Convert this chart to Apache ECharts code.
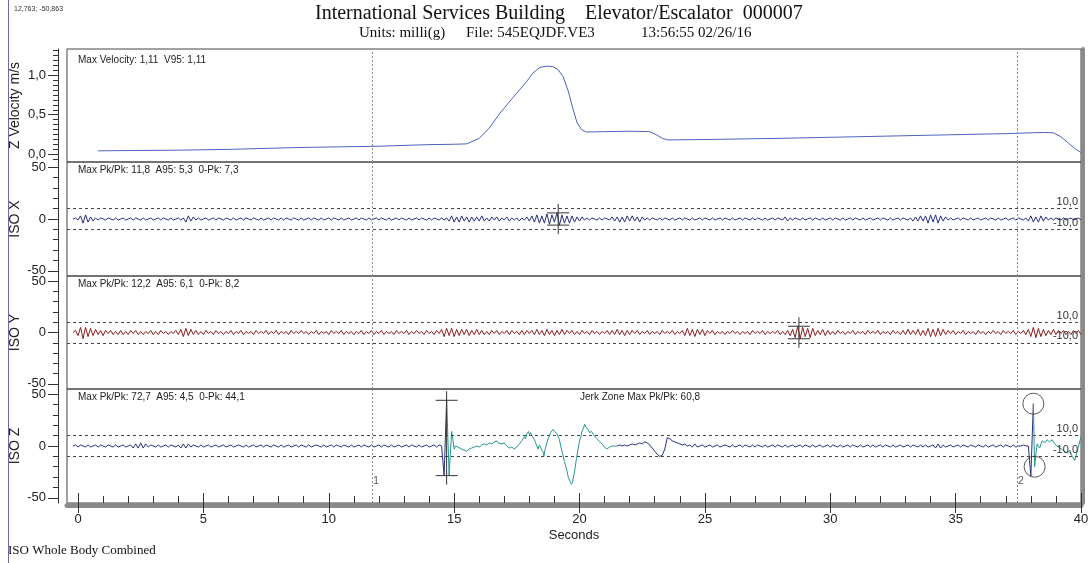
<!DOCTYPE html>
<html>
<head>
<meta charset="utf-8">
<script src="https://cdn.jsdelivr.net/npm/echarts@6/dist/echarts.min.js"></script>
<style>
  html, body { margin: 0; padding: 0; background: #fff; }
  #chart { position: absolute; left: 0; top: 0; width: 1089px; height: 563px; }
  #edge { position: absolute; left: 8px; top: 0; width: 1px; height: 563px; background: #6b6ba8; }
</style>
</head>
<body>
<div id="chart"></div>
<div id="edge"></div>
<script>
// ---- recorded data -------------------------------------------------------
// Z velocity (m/s) against time (s)
const velTime  = [0.8, 2, 4, 6, 8.85, 10, 12, 12.84, 14, 15, 15.5, 16.0, 16.4, 16.83, 17.3, 17.89, 18.15, 18.42, 18.7, 18.94, 19.15, 19.35, 19.55, 19.75, 19.9, 20.08, 20.28, 21, 22, 22.8, 23.1, 23.3, 23.5, 25, 28, 31, 34, 37, 38.5, 38.9, 39.2, 39.5, 39.8, 40];
const velValue = [0.042, 0.045, 0.05, 0.06, 0.084, 0.09, 0.1, 0.109, 0.12, 0.125, 0.13, 0.2, 0.33, 0.52, 0.7, 0.92, 1.03, 1.1, 1.115, 1.11, 1.07, 0.98, 0.8, 0.56, 0.4, 0.31, 0.28, 0.285, 0.29, 0.285, 0.24, 0.2, 0.18, 0.185, 0.2, 0.22, 0.24, 0.26, 0.275, 0.27, 0.22, 0.14, 0.06, 0.02];

// ISO weighted acceleration, sampled every 0.1 s starting at -0.2 s
const sampleStart = -0.2;
const sampleStep = 0.1;

const isoX = [
  0,1,-1,3,-4,4,-3,2,-2,1,-1,1,0,-1,1,0,-1,1,-1,0,
  1,-1,0,1,-1,1,0,-1,1,-1,0,1,-1,0,1,-1,1,0,-1,1,
  -1,0,1,-1,1,-3,3,-2,2,-1,1,-1,0,1,-1,0,1,-1,1,0,
  -1,1,0,-1,1,-1,0,1,-1,1,0,-1,1,0,-1,1,-1,0,1,-1,
  1,0,-1,1,-1,1,0,-1,1,0,-1,1,-1,0,1,-1,1,0,-1,1,
  -1,0,1,-1,1,0,-1,1,-1,0,1,-1,0,1,-1,1,0,-1,1,-1,
  0,1,-1,1,0,-1,1,-1,0,1,-1,1,0,-1,1,-1,0,1,-1,1,
  0,-1,1,-1,1,0,-1,1,-1,1,-2,3,-3,2,-3,3,-2,2,-3,2,
  -2,2,-2,3,-2,1,-2,2,-1,2,-2,1,-1,2,-2,1,-1,1,-2,1,
  -1,2,-2,3,-3,4,-4,3,-4,5,-5,4,-3,5.9,-5.9,4,-4,3,-4,3,
  -3,2,-2,2,-1,1,-1,1,0,-1,1,-1,1,0,-1,2,-2,2,-3,2,
  -3,3,-2,3,-2,2,-3,2,-1,1,-1,1,0,-1,1,-1,1,0,-1,1,
  -1,0,1,-1,1,0,-1,1,-1,0,1,-1,1,0,-1,1,-1,0,1,-1,
  1,0,-1,1,-1,0,1,-1,1,0,-1,1,-1,1,0,-1,1,-1,0,1,
  -1,1,0,-1,2,-2,1,-1,1,0,-1,1,-1,0,1,-1,1,0,-1,1,
  -1,0,1,-1,1,0,-1,1,-1,0,1,-1,1,0,-1,1,-1,0,1,-1,
  0,1,-1,1,0,-1,1,-1,0,1,-1,1,0,-1,1,-2,2,-2,3,-2,
  3,-4,4,-3,4,-4,3,-2,2,-1,1,-1,0,1,-1,1,0,-1,1,-1,
  0,1,-1,0,1,-1,1,0,-1,1,-1,0,1,-1,0,1,-1,1,0,-1,
  1,-2,3,-3,2,-3,3,-2,2,-1,1,-1,1,0,-1,1,-1,0,1,-1,
  0,1,-1
];

const isoY = [
  0,2,-3,5,-6,5,-4,4,-3,3,-2,2,-3,2,-1,2,-2,1,-2,2,
  -2,1,-2,2,-1,2,-2,1,-2,1,-1,2,-2,1,-2,2,-1,1,-2,1,
  -1,2,-2,3,-4,4,-3,3,-2,2,-2,1,-2,2,-1,1,-2,2,-1,1,
  -2,1,-1,2,-2,1,-1,2,-2,1,-1,1,-2,2,-1,1,-1,2,-2,1,
  -1,2,-2,1,-1,1,-2,2,-1,1,-1,2,-1,1,-2,1,-1,2,-2,1,
  -1,1,-2,2,-1,1,-1,2,-2,1,-1,1,-2,1,-1,2,-2,1,-1,2,
  -2,1,-1,2,-2,1,-1,1,-2,2,-1,1,-1,2,-2,1,-1,2,-1,1,
  -2,2,-1,1,-2,2,-1,3,-4,4,-3,4,-4,3,-3,3,-2,3,-3,2,
  -2,3,-2,2,-2,1,-2,2,-1,2,-2,1,-1,2,-2,2,-1,1,-2,2,
  -2,2,-1,2,-2,3,-2,2,-3,3,-2,2,-3,2,-2,3,-2,2,-1,2,
  -2,1,-2,2,-1,1,-2,2,-1,1,-2,1,-1,2,-2,2,-2,3,-2,2,
  -3,2,-2,2,-1,2,-2,1,-1,2,-2,1,-1,1,-2,2,-1,1,-1,2,
  -2,1,-1,2,-3,4,-3,3,-4,3,-2,3,-3,2,-1,2,-2,1,-1,1,
  -2,1,-1,2,-1,1,-2,1,-1,1,-2,2,-1,1,-1,2,-2,1,-1,1,
  -1,2,-2,1,-2,2,-3,3,-5,6.1,-6.1,5,-4,4,-5,4,-3,2,-2,3,
  -3,2,-2,1,-2,2,-1,1,-2,1,-1,2,-2,1,-1,1,-2,2,-1,1,
  -1,2,-2,1,-1,1,-2,2,-1,1,-2,2,-2,3,-2,2,-2,3,-3,2,
  -3,4,-4,3,-4,4,-3,3,-2,2,-1,2,-2,1,-1,2,-2,1,-1,1,
  -2,2,-1,1,-2,1,-1,2,-1,1,-2,2,-1,1,-1,2,-2,1,-1,2,
  -2,3,-4,5,-5,4,-4,3,-3,2,-2,3,-2,2,-1,2,-2,1,-2,2,
  -1,2,-2
];

// ISO Z outside the jerk zones (null where the jerk trace takes over)
const isoZ = [
  0,1,-1,1,0,-1,1,-1,0,1,-1,1,0,-1,1,0,-1,1,-1,0,
  1,-1,0,1,-2,2,-2,3,-2,2,-1,1,0,-1,1,-1,0,1,-1,1,
  0,-1,1,-2,2,-2,2,-1,1,0,-1,1,-1,0,1,-1,0,1,-1,0,
  1,-1,0,1,-1,0,1,0,-1,1,-1,0,1,-1,0,1,-1,1,0,-1,
  1,0,-1,1,-1,0,1,-1,0,1,-1,1,0,-1,1,-1,0,1,0,-1,
  1,-1,0,1,-1,1,0,-1,1,0,-1,1,-1,0,1,-1,1,0,-1,1,
  -1,0,1,-1,1,0,-1,1,-1,0,1,-1,0,1,-1,1,0,-1,1,-1,
  0,1,-1,0,1,-1,1,0,-28.6,44.1,null,null,null,null,null,null,null,null,null,null,
  null,null,null,null,null,null,null,null,null,null,null,null,null,null,null,null,null,null,null,null,
  null,null,null,null,null,null,null,null,null,null,null,null,null,null,null,null,null,null,null,null,
  null,null,null,null,null,null,null,null,null,null,null,null,null,null,null,null,null,0,1,0,
  1,0,1,2,1,2,3,2,4,3,1,-2,-5,-8,-10,-9,-3,8,7,5,
  4,3,2,1,2,0,1,-1,2,-1,0,1,-1,0,1,-1,0,1,-1,0,
  1,0,-1,1,-1,0,1,-1,1,0,-1,1,-1,1,0,-1,1,-1,0,1,
  -1,1,0,-1,1,-1,0,1,-1,0,1,-1,1,0,-1,1,-1,0,1,-1,
  0,1,-1,1,0,-1,1,-1,0,1,-1,1,0,-1,1,-1,0,1,-1,1,
  -1,0,1,-1,1,0,-1,1,-1,0,1,-1,0,1,-1,1,0,-1,1,-1,
  1,-1,0,1,-2,2,-2,1,-1,0,1,-1,0,1,-1,1,0,-1,1,0,
  -1,1,0,-1,1,-1,0,1,-1,0,1,-1,1,0,-1,1,-1,0,0,1,
  0,0,-29,40.8,null,null,null,null,null,null,null,null,null,null,null,null,null,null,null,null,
  null,null,null
];

// ISO Z inside the jerk zones: [time s, value]
const jerkRide = [
  [14.7,44.1],[14.8,-28],[14.9,14],[14.95,6],[15.0,-3],[15.05,0],[15.1,1],[15.15,-1],[15.2,0],[15.3,-3],
  [15.4,-4],[15.5,-5],[15.6,-3],[15.7,-2],[15.8,-1],[15.9,0],[16.0,-1],[16.1,1],[16.2,2],[16.3,1],
  [16.4,3],[16.5,2],[16.6,4],[16.7,5],[16.75,3],[16.8,4],[16.9,2],[17.0,3],[17.05,1],[17.1,0],
  [17.2,-2],[17.3,-1],[17.4,-3],[17.5,-1],[17.6,2],[17.7,5],[17.8,9],[17.85,7],[17.9,12],[17.96,14],
  [18.0,11],[18.05,13],[18.1,10],[18.2,6],[18.25,3],[18.3,0],[18.35,-3],[18.4,1],[18.45,2],[18.5,-4],
  [18.55,-6],[18.58,-10],[18.62,-4],[18.7,3],[18.75,7],[18.8,10],[18.85,13],[18.9,12],[18.95,16],[19.0,14],
  [19.05,13],[19.1,12],[19.2,6],[19.25,0],[19.3,-5],[19.4,-15],[19.5,-24],[19.55,-30],[19.62,-34],[19.68,-37],
  [19.72,-35],[19.8,-25],[19.88,-12],[19.95,-2],[20.0,5],[20.05,9],[20.1,14],[20.15,17],[20.21,21],[20.25,18],
  [20.3,17],[20.35,16],[20.4,13],[20.48,14],[20.55,11],[20.6,10],[20.7,7],[20.8,4],[20.9,2],[21.0,-1],
  [21.08,-3],[21.15,-2],[21.2,-1],[21.3,0],[21.35,1],[21.42,0],[21.5,0]
];
const jerkStop = [
  [38.1,40.8],[38.15,-20],[38.2,-8],[38.25,2],[38.35,-2],[38.45,5],[38.55,3],[38.65,6],[38.75,4],[38.85,6],
  [38.95,2],[39.05,0],[39.15,-2],[39.3,-4],[39.45,-7],[39.55,-4],[39.65,-10],[39.75,-14],[39.85,-5],[40.0,9]
];

// peak-to-peak markers: [time s, max, min]
const peakX = [19.15, 5.9, -5.9];
const peakY = [28.75, 6.1, -6.1];
const peakZ = [14.7, 44.1, -28.6];
// jerk zone extremes: [time s, value]
const jerkPeaks = [[38.1, 40.8], [38.15, -20]];

// cursors and limit lines
const cursorTimes = [11.72, 37.44];
const cursorNames = ['1', '2'];
const limitLevels = [10, -10];

// tick values
const secondsTicks = [0, 5, 10, 15, 20, 25, 30, 35, 40];
const velocityTicks = [0, 0.5, 1];
const isoTicks = [-50, 0, 50];

// ---- chart construction ---------------------------------------------------
const SANS = 'Liberation Sans, Arial, sans-serif';
const SERIF = 'Liberation Serif, Times New Roman, serif';
const X_MIN = -0.44, X_MAX = 40;
const VEL_MIN = -0.1, VEL_MAX = 1.333;
const ISO_MIN = -55, ISO_MAX = 55;

function stepTicks(from, to, step) {
  const out = [];
  for (let v = from; v <= to + 1e-9; v += step) out.push(Math.round(v * 10000) / 10000);
  return out;
}
const secondsMinor = stepTicks(0, 40, 1);
const velocityMinor = stepTicks(-0.0625, 1.3125, 0.0625);
const isoMinor = stepTicks(-50, 50, 10);

function sampled(values) {
  return values.map((v, i) => [Math.round((sampleStart + i * sampleStep) * 100) / 100, v]);
}
const comma = v => v.toFixed(1).replace('.', ',');

const grids = [
  { top: 49, height: 113 },
  { top: 162, height: 114 },
  { top: 276, height: 113 },
  { top: 389, height: 114 }
].map(g => Object.assign({
  left: 67, right: 8, show: true, borderColor: '#444', borderWidth: 1, backgroundColor: 'transparent',
  containLabel: false, outerBoundsMode: 'none'
}, g));

const xAxes = [0, 1, 2].map(g => ({ gridIndex: g, type: 'value', min: X_MIN, max: X_MAX, show: false, axisLine: { onZero: false } }));
xAxes.push({
  gridIndex: 3, type: 'value', min: X_MIN, max: X_MAX, position: 'bottom', z: 3,
  axisLine: { show: false, onZero: false },
  axisTick: { show: true, inside: true, length: 10, customValues: secondsTicks, lineStyle: { color: '#333' } },
  axisLabel: { customValues: secondsTicks, fontSize: 13, color: '#222', fontFamily: SANS, margin: 10 },
  splitLine: { show: false },
  name: 'Seconds', nameLocation: 'middle', nameGap: 26, nameMoveOverlap: false,
  nameTextStyle: { fontSize: 13, color: '#222', fontFamily: SANS }
});
xAxes.push({
  gridIndex: 3, type: 'value', min: X_MIN, max: X_MAX, position: 'bottom', offset: 2.5, z: 2,
  axisLine: { show: true, onZero: false, lineStyle: { color: '#8a8a8a', width: 5 } },
  axisTick: { show: false }, axisLabel: { show: false }, splitLine: { show: false }
});
xAxes.push({
  gridIndex: 3, type: 'value', min: X_MIN, max: X_MAX, position: 'bottom', z: 3,
  axisLine: { show: false, onZero: false },
  axisTick: { show: true, inside: false, length: 10, customValues: secondsTicks, lineStyle: { color: '#333' } },
  axisLabel: { show: false }, splitLine: { show: false }
});
xAxes.push({
  gridIndex: 3, type: 'value', min: X_MIN, max: X_MAX, position: 'bottom', z: 3,
  axisLine: { show: false, onZero: false },
  axisTick: { show: true, inside: true, length: 7, customValues: secondsMinor, lineStyle: { color: '#333' } },
  axisLabel: { show: false }, splitLine: { show: false }
});

function yAxesFor(g, min, max, major, minor, fmt, name) {
  return [
    {
      gridIndex: g, type: 'value', min, max, position: 'left', offset: 9,
      name, nameLocation: 'middle', nameGap: 36, nameMoveOverlap: false,
      nameTextStyle: { fontSize: 14, color: '#222', fontFamily: SANS },
      axisLine: { show: true, onZero: false, lineStyle: { color: '#333' } },
      axisTick: { show: true, length: 10, customValues: major, lineStyle: { color: '#333' } },
      axisLabel: { customValues: major, formatter: fmt, fontSize: 13, color: '#222', fontFamily: SANS, margin: 12 },
      splitLine: { show: false }
    },
    {
      gridIndex: g, type: 'value', min, max, position: 'left', offset: 9,
      axisLine: { show: false, onZero: false },
      axisTick: { show: true, length: 5, customValues: minor, lineStyle: { color: '#333' } },
      axisLabel: { show: false }, splitLine: { show: false }
    },
    {
      gridIndex: g, type: 'value', min, max, position: 'right', offset: 2,
      axisLine: { show: true, onZero: false, lineStyle: { color: '#8a8a8a', width: 4 } },
      axisTick: { show: false }, axisLabel: { show: false }, splitLine: { show: false }
    }
  ];
}
const yAxes = [].concat(
  yAxesFor(0, VEL_MIN, VEL_MAX, velocityTicks, velocityMinor, comma, 'Z Velocity m/s'),
  yAxesFor(1, ISO_MIN, ISO_MAX, isoTicks, isoMinor, v => String(v), 'ISO X'),
  yAxesFor(2, ISO_MIN, ISO_MAX, isoTicks, isoMinor, v => String(v), 'ISO Y'),
  yAxesFor(3, ISO_MIN, ISO_MAX, isoTicks, isoMinor, v => String(v), 'ISO Z')
);

function guides(withLimits) {
  const data = cursorTimes.map(t => ({
    xAxis: t, lineStyle: { type: [2, 2], color: '#8a8a8a', width: 1 }, label: { show: false }
  }));
  if (withLimits) {
    limitLevels.forEach(l => data.push({
      yAxis: l, lineStyle: { type: [3, 3], color: '#444', width: 1 },
      label: { show: true, position: 'insideEndTop', formatter: comma(l), color: '#333', fontSize: 11, fontFamily: SANS, distance: [3, 1] }
    }));
  }
  return { symbol: ['none', 'none'], silent: true, animation: false, data };
}

function crossMark(params, api) {
  const t = api.value(0);
  const a = api.coord([t, api.value(1)]);
  const b = api.coord([t, api.value(2)]);
  const s = { stroke: '#333', lineWidth: 1 };
  return {
    type: 'group', children: [
      { type: 'line', shape: { x1: a[0], y1: a[1] - 9, x2: b[0], y2: b[1] + 9 }, style: s },
      { type: 'line', shape: { x1: a[0] - 11, y1: a[1], x2: a[0] + 11, y2: a[1] }, style: s },
      { type: 'line', shape: { x1: b[0] - 11, y1: b[1], x2: b[0] + 11, y2: b[1] }, style: s }
    ]
  };
}

function trace(xi, yi, data, color, extra) {
  return Object.assign({
    type: 'line', xAxisIndex: xi, yAxisIndex: yi, data, symbol: 'none', showSymbol: false,
    lineStyle: { color, width: 1 }, itemStyle: { color }, connectNulls: false, animation: false, z: 3
  }, extra || {});
}

const NAVY = '#27307f', RED = '#8c1c1c', TEAL = '#27968f', BLUE = '#4c62c0';

const series = [
  trace(0, 0, velTime.map((t, i) => [t, velValue[i]]), BLUE, { markLine: guides(false) }),
  trace(1, 3, sampled(isoX), NAVY, { markLine: guides(true) }),
  trace(2, 6, sampled(isoY), RED, { markLine: guides(true) }),
  trace(3, 9, sampled(isoZ), NAVY, { markLine: guides(true) }),
  trace(3, 9, jerkRide, TEAL),
  trace(3, 9, jerkStop, TEAL),
  { type: 'custom', xAxisIndex: 1, yAxisIndex: 3, data: [peakX], renderItem: crossMark, z: 5, animation: false, silent: true },
  { type: 'custom', xAxisIndex: 2, yAxisIndex: 6, data: [peakY], renderItem: crossMark, z: 5, animation: false, silent: true },
  { type: 'custom', xAxisIndex: 3, yAxisIndex: 9, data: [peakZ], renderItem: crossMark, z: 5, animation: false, silent: true },
  {
    type: 'scatter', xAxisIndex: 3, yAxisIndex: 9, data: jerkPeaks, symbol: 'circle', symbolSize: 21,
    itemStyle: { color: 'rgba(0,0,0,0)', borderColor: '#333', borderWidth: 1 }, z: 6, animation: false, silent: true
  },
  {
    type: 'scatter', xAxisIndex: 3, yAxisIndex: 9, symbolSize: 0, z: 6, animation: false, silent: true,
    data: cursorTimes.map((t, i) => [t, -33.5, cursorNames[i]]),
    label: { show: true, position: 'right', distance: 1, formatter: p => p.data[2], fontSize: 11, color: '#333', fontFamily: SANS }
  }
];

function text(str, left, top, size, family, color) {
  return { text: str, left, top, padding: 0, textStyle: { fontSize: size, fontWeight: 'normal', color: color || '#222', fontFamily: family } };
}

const option = {
  animation: false,
  backgroundColor: '#fff',
  title: [
    text('12,763; -50,863', 14, 6, 7, SANS, '#333'),
    text('International Services Building    Elevator/Escalator  000007', 315, 4, 20, SERIF, '#111'),
    text('Units: milli(g)', 359, 26, 15, SERIF, '#111'),
    text('File: 545EQJDF.VE3', 466, 26, 15, SERIF, '#111'),
    text('13:56:55 02/26/16', 641, 26, 15, SERIF, '#111'),
    text('Max Velocity: 1,11  V95: 1,11', 78, 55, 10, SANS),
    text('Max Pk/Pk: 11,8  A95: 5,3  0-Pk: 7,3', 78, 165, 10, SANS),
    text('Max Pk/Pk: 12,2  A95: 6,1  0-Pk: 8,2', 78, 279, 10, SANS),
    text('Max Pk/Pk: 72,7  A95: 4,5  0-Pk: 44,1', 78, 392, 10, SANS),
    text('Jerk Zone Max Pk/Pk: 60,8', 580, 392, 10, SANS),
    text('ISO Whole Body Combined', 8, 544, 13, SERIF, '#111')
  ],
  grid: grids,
  xAxis: xAxes,
  yAxis: yAxes,
  series
};

const chart = echarts.init(document.getElementById('chart'), null, { renderer: 'canvas' });
chart.setOption(option);
</script>
</body>
</html>
